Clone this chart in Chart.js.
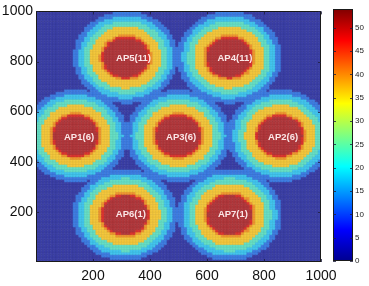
<!DOCTYPE html>
<html>
<head>
<meta charset="utf-8">
<script src="https://cdn.jsdelivr.net/npm/chart.js@4.4.1/dist/chart.umd.min.js"></script>
<style>
  html, body { margin: 0; padding: 0; background: #ffffff; }
  #wrap { position: relative; width: 369px; height: 286px; }
  #main { position: absolute; left: 0; top: 0; }
  #cbar { position: absolute; left: 320px; top: 0; }
</style>
</head>
<body>
<div id="wrap">
  <canvas id="main" width="369" height="286"></canvas>
  <canvas id="cbar" width="49" height="286"></canvas>
</div>
<script>
// ---- data ----
const apNames = ['AP1(6)', 'AP2(6)', 'AP3(6)', 'AP4(11)', 'AP5(11)', 'AP6(1)', 'AP7(1)'];
const apX = [140, 858, 500, 679, 316, 313, 681];
const apY = [505, 505, 505, 818, 818, 190, 190];
const labelX = [151, 867, 509, 698, 342, 333, 691];
const labelY = [498, 498, 498, 813, 813, 190, 190];
// contour bands around each AP: outer radius (m) and level
const bandRadius = [77, 84, 92, 124, 146, 165, 184];
const bandValue = [52, 46, 41, 34, 24, 18, 12];
const backgroundValue = 7;
const gridStep = 10;
const xTicks = [200, 400, 600, 800, 1000];
const yTicks = [200, 400, 600, 800, 1000];
const cbarTicks = [0, 5, 10, 15, 20, 25, 30, 35, 40, 45, 50];
const cbarMax = 54;

// ---- styles ----
const FONT = "'Liberation Sans', Arial, sans-serif";
const bandColor = {52: '#b3393d', 46: '#dc3430', 41: '#f0962f', 34: '#f5c83c',
                   24: '#66e0c6', 18: '#42c6ef', 12: '#3e7ee4', 7: '#3c40a8'};
function darker(hex, f) {
  const n = parseInt(hex.slice(1), 16);
  const r = Math.round(((n >> 16) & 255) * f), g = Math.round(((n >> 8) & 255) * f), b = Math.round((n & 255) * f);
  return `rgb(${r},${g},${b})`;
}

// ---- build cells ----
const cells = [], fills = [], edges = [];
for (let gx = gridStep / 2; gx < 1000; gx += gridStep) {
  for (let gy = gridStep / 2; gy < 1000; gy += gridStep) {
    let d = Infinity;
    for (let k = 0; k < apX.length; k++) {
      d = Math.min(d, Math.hypot(gx - apX[k], gy - apY[k]));
    }
    let v = backgroundValue;
    for (let b = 0; b < bandRadius.length; b++) {
      if (d <= bandRadius[b]) { v = bandValue[b]; break; }
    }
    cells.push({x: gx, y: gy, v: v});
    fills.push(bandColor[v]);
    edges.push(darker(bandColor[v], 0.9));
  }
}

const boxPlugin = {
  id: 'box',
  afterDatasetsDraw(chart) {
    const {ctx, chartArea: a, scales} = chart;
    ctx.save();
    if (chart.canvas.id === 'main') {
      ctx.fillStyle = 'rgba(255,240,240,0.95)';
      ctx.font = `bold 9.5px ${FONT}`;
      ctx.textAlign = 'center';
      ctx.textBaseline = 'middle';
      for (let i = 0; i < apNames.length; i++) {
        ctx.fillText(apNames[i], scales.x.getPixelForValue(labelX[i]), scales.y.getPixelForValue(labelY[i]));
      }
    }
    ctx.strokeStyle = '#1a1a1a';
    ctx.lineWidth = 1;
    ctx.strokeRect(Math.round(a.left) + 0.5, Math.round(a.top) + 0.5,
                   Math.round(a.right - a.left) - 1, Math.round(a.bottom - a.top) - 1);
    ctx.strokeStyle = 'rgba(30,30,60,0.8)';
    const tl = 3;
    if (scales.x && scales.x.options.display !== false) {
      for (const t of xTicks) {
        const px = Math.round(scales.x.getPixelForValue(t)) + 0.5;
        ctx.beginPath();
        ctx.moveTo(px, a.bottom); ctx.lineTo(px, a.bottom - tl);
        ctx.moveTo(px, a.top); ctx.lineTo(px, a.top + tl);
        ctx.stroke();
      }
    }
    const ys = chart.canvas.id === 'main' ? yTicks : cbarTicks;
    for (const t of ys) {
      const py = Math.round(scales.y.getPixelForValue(t)) + 0.5;
      ctx.beginPath();
      ctx.moveTo(a.left, py); ctx.lineTo(a.left + tl, py);
      ctx.moveTo(a.right, py); ctx.lineTo(a.right - tl, py);
      ctx.stroke();
    }
    ctx.restore();
  }
};

const plainLabel = v => String(v);

new Chart(document.getElementById('main'), {
  type: 'scatter',
  data: {
    datasets: [{
      data: cells,
      pointStyle: 'rect',
      pointRadius: 2.05,
      pointHoverRadius: 2.05,
      pointBackgroundColor: fills,
      pointBorderColor: edges,
      pointBorderWidth: 0.5
    }]
  },
  options: {
    responsive: false,
    animation: false,
    events: [],
    layout: {padding: {left: 0, right: 48, top: 9, bottom: 0}},
    plugins: {legend: {display: false}, tooltip: {enabled: false}},
    scales: {
      x: {
        type: 'linear', min: 0, max: 1000,
        afterFit(s) { s.height = 24; },
        afterBuildTicks(s) { s.ticks = xTicks.map(v => ({value: v})); },
        grid: {display: false, drawTicks: false},
        border: {display: false},
        ticks: {color: '#111', font: {family: FONT, size: 14}, padding: 6, maxRotation: 0, autoSkip: false, callback: plainLabel}
      },
      y: {
        type: 'linear', min: 0, max: 1000,
        afterFit(s) { s.width = 36; },
        afterBuildTicks(s) { s.ticks = yTicks.map(v => ({value: v})); },
        grid: {display: false, drawTicks: false},
        border: {display: false},
        ticks: {color: '#111', font: {family: FONT, size: 14}, padding: 3, autoSkip: false, callback: plainLabel}
      }
    }
  },
  plugins: [boxPlugin]
});

// ---- colour bar ----
const jetStops = [[0, '#00008f'], [0.125, '#0000ff'], [0.375, '#00ffff'], [0.625, '#ffff00'], [0.875, '#ff0000'], [1, '#800000']];
new Chart(document.getElementById('cbar'), {
  type: 'bar',
  data: {
    labels: [''],
    datasets: [{
      data: [[0, cbarMax]],
      barPercentage: 1,
      categoryPercentage: 1,
      borderWidth: 0,
      backgroundColor(ctx) {
        const a = ctx.chart.chartArea;
        if (!a) return '#0000ff';
        const g = ctx.chart.ctx.createLinearGradient(0, a.bottom, 0, a.top);
        jetStops.forEach(s => g.addColorStop(s[0], s[1]));
        return g;
      }
    }]
  },
  options: {
    responsive: false,
    animation: false,
    events: [],
    layout: {padding: {left: 13, right: 0, top: 9, bottom: 25}},
    plugins: {legend: {display: false}, tooltip: {enabled: false}},
    scales: {
      x: {display: false},
      y: {
        position: 'right', min: 0, max: cbarMax,
        afterFit(s) { s.width = 16; },
        afterBuildTicks(s) { s.ticks = cbarTicks.map(v => ({value: v})); },
        grid: {display: false, drawTicks: false},
        border: {display: false},
        ticks: {color: '#222', font: {family: FONT, size: 8}, padding: 2, autoSkip: false, callback: plainLabel}
      }
    }
  },
  plugins: [boxPlugin]
});
</script>
</body>
</html>
